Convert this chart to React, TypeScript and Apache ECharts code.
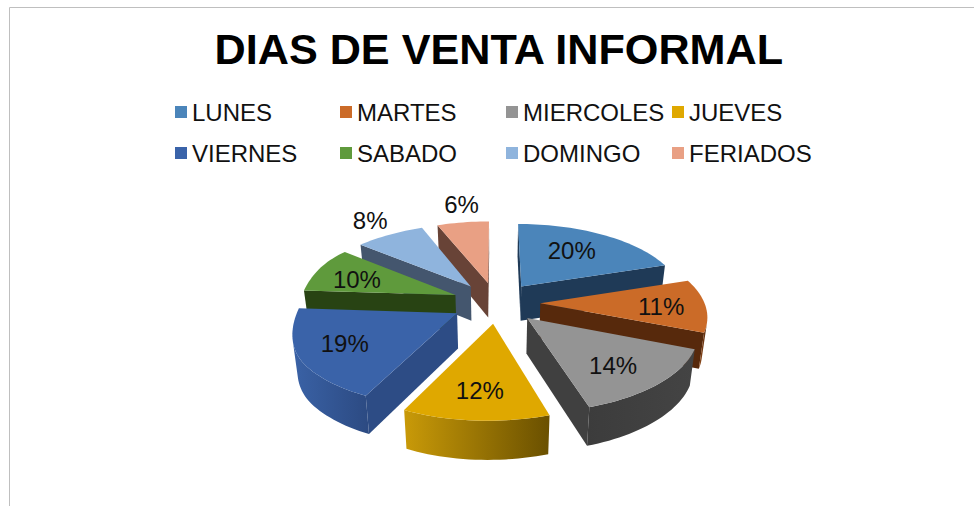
import React, { useEffect, useRef } from "react";
import * as echarts from "echarts";

const titleText = "DIAS DE VENTA INFORMAL";
const categories = ["LUNES", "MARTES", "MIERCOLES", "JUEVES", "VIERNES", "SABADO", "DOMINGO", "FERIADOS"];
const percentages = [20, 11, 14, 12, 19, 10, 8, 6];

const topColors = ["#4B85BA", "#CB6B28", "#949494", "#DFA800", "#3A63A9", "#5F9A3C", "#8FB4DD", "#E9A084"];
const wallColors = ["#1F3A57", "#57290C", "#404040", "#6F5500", "#2D4C85", "#284313", "#44566E", "#684337"];
const rimStart = ["#34608A", "#8F4B1B", "#3C3C3C", "#C99A08", "#3A62A6", "#3F6B26", "#5F7E9E", "#A4705C"];
const rimEnd = ["#1F3A57", "#57290C", "#444444", "#6A5000", "#2C4A82", "#284313", "#44566E", "#684337"];
const legendLeft = [175, 340, 506, 672];
const legendTop = [107, 148];
const labelNudge = [[-5, -1], [12, 2], [2, 6], [-3, 7], [-10, 2], [-4, 2], [12, 6], [8, 5]];

const CX = 496, CY = 302.5, AX = 164, AY = 75.9, G = 0.146, EXPLODE = 0.27;

const project = (u: number, v: number): [number, number] => {
  const s = 1 / (1 - G * v);
  const over = Math.max(0, -u - 1);
  const front = Math.max(0, v);
  return [CX + AX * u * s + 130 * over * over - 2.6 * front * front * front, CY + AY * v * s];
};
const lower = (p: number[]): [number, number] => [
  CX + (p[0] - CX) * 0.975,
  p[1] + 35 + 0.035 * (p[1] - CY),
];
const area = (pts: number[][]) => {
  let a = 0;
  pts.forEach((p, i) => {
    const q = pts[(i + 1) % pts.length];
    a += p[0] * q[1] - q[0] * p[1];
  });
  return a;
};

const starts = percentages.map((_, i) => percentages.slice(0, i).reduce((a, b) => a + b, 0));

function makeRender(index: number) {
  return (_params: any, api: any) => {
    const value = api.value(0);
    const start = (api.value(1) / 100) * Math.PI * 2;
    const end = start + (value / 100) * Math.PI * 2;
    const mid = (start + end) / 2;
    const ou = EXPLODE * Math.sin(mid);
    const ov = -EXPLODE * Math.cos(mid);
    const at = (t: number, r = 1) => project(ou + r * Math.sin(t), ov - r * Math.cos(t));
    const apex = project(ou, ov);
    const steps = Math.max(8, Math.round(value * 2));
    const arc: number[][] = [];
    for (let i = 0; i <= steps; i++) arc.push(at(start + ((end - start) * i) / steps));
    const children: any[] = [];
    const startWall = [apex, arc[0], lower(arc[0]), lower(apex)];
    const endWall = [apex, arc[steps], lower(arc[steps]), lower(apex)];
    if (area(startWall) < 0) children.push({ type: "polygon", shape: { points: startWall }, style: { fill: wallColors[index] } });
    if (area(endWall) > 0) children.push({ type: "polygon", shape: { points: endWall }, style: { fill: wallColors[index] } });
    const rimTop: number[][] = [];
    for (let i = 0; i < steps; i++) {
      const quad = [arc[i], arc[i + 1], lower(arc[i + 1]), lower(arc[i])];
      if (area(quad) < 0) {
        if (!rimTop.length) rimTop.push(arc[i]);
        rimTop.push(arc[i + 1]);
      }
    }
    if (rimTop.length > 1) {
      const pts = rimTop.concat(rimTop.slice().reverse().map(lower));
      children.push({
        type: "polygon",
        shape: { points: pts },
        style: {
          fill: new echarts.graphic.LinearGradient(0, 0, 1, 0, [
            { offset: 0, color: rimStart[index] },
            { offset: 1, color: rimEnd[index] },
          ]),
        },
      });
    }
    children.push({ type: "polygon", shape: { points: [apex, ...arc] }, style: { fill: topColors[index] } });
    const labelR = value < 9 ? 1.72 : 0.93;
    const lp = project(labelR * Math.sin(mid), -labelR * Math.cos(mid));
    children.push({
      type: "text",
      x: lp[0] + labelNudge[index][0],
      y: lp[1] + labelNudge[index][1],
      z2: 50,
      style: {
        text: `${value}%`,
        font: '24px "Liberation Sans"',
        fill: "#111111",
        align: "center",
        verticalAlign: "middle",
      },
    });
    return { type: "group", children };
  };
}

export default function App() {
  const ref = useRef<HTMLDivElement>(null);
  useEffect(() => {
    const chart = echarts.init(ref.current!, undefined, { renderer: "svg" });
    chart.setOption({
      animation: false,
      backgroundColor: "#FFFFFF",
      title: {
        text: titleText,
        left: 214.5,
        top: 27,
        padding: 0,
        textStyle: { fontFamily: "Liberation Sans", fontWeight: "bold", fontSize: 43.2, color: "#000000" },
      },
      legend: categories.map((name, i) => ({
        data: [name],
        left: legendLeft[i % 4],
        top: legendTop[Math.floor(i / 4)] - 7,
        padding: 0,
        icon: "rect",
        itemWidth: 12,
        itemHeight: 12,
        selectedMode: false,
        textStyle: { fontFamily: "Liberation Sans", fontSize: 24, color: "#111111" },
      })),
      graphic: [
        {
          type: "polyline",
          silent: true,
          shape: { points: [[9.5, 506], [9.5, 7.5], [974, 7.5]] },
          style: { stroke: "#BFBFBF", lineWidth: 1, fill: "none" },
        },
      ],
      series: categories.map((name, i) => {
        const mid = ((starts[i] + percentages[i] / 2) / 100) * Math.PI * 2;
        return {
          type: "custom",
          name,
          coordinateSystem: "none",
          silent: true,
          z: 10 - Math.cos(mid),
          itemStyle: { color: topColors[i] },
          data: [[percentages[i], starts[i]]],
          renderItem: makeRender(i),
        };
      }),
    });
    return () => chart.dispose();
  }, []);
  return <div ref={ref} style={{ position: "absolute", left: 0, top: 0, width: 974, height: 506 }} />;
}
